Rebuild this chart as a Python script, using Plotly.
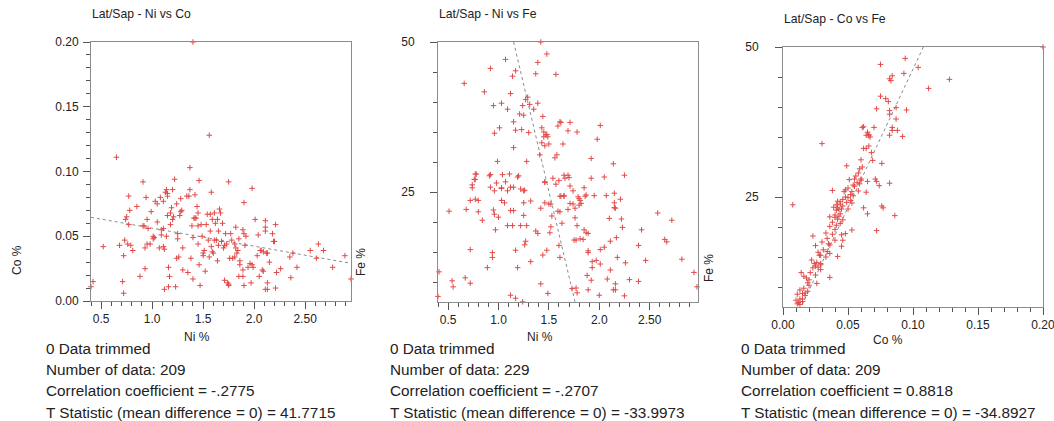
import plotly.graph_objects as go

# ---------------- data ----------------
# Panel 1: Lat/Sap - Ni vs Co  (Ni %, Co %)
ni_co_points = [
    (0.42,0.015),(0.40,0.011),(0.52,0.042),(0.65,0.111),(0.68,0.043),(0.71,0.015),(0.72,0.006),(0.72,0.035),
    (0.73,0.047),(0.74,0.063),(0.75,0.065),(0.76,0.044),(0.77,0.081),(0.77,0.059),(0.78,0.070),(0.79,0.043),
    (0.81,0.039),(0.85,0.073),(0.88,0.019),(0.91,0.092),(0.91,0.058),(0.92,0.058),(0.93,0.025),(0.93,0.041),
    (0.94,0.080),(0.95,0.063),(0.95,0.044),(0.96,0.056),(0.98,0.044),(0.99,0.069),(1.01,0.048),(1.01,0.050),
    (1.02,0.049),(1.03,0.077),(1.05,0.061),(1.05,0.075),(1.07,0.041),(1.08,0.080),(1.09,0.051),(1.09,0.055),
    (1.11,0.056),(1.11,0.077),(1.11,0.042),(1.12,0.009),(1.12,0.040),(1.13,0.084),(1.14,0.050),(1.14,0.086),
    (1.15,0.083),(1.15,0.066),(1.15,0.081),(1.16,0.026),(1.16,0.011),(1.17,0.019),(1.18,0.059),(1.18,0.068),
    (1.19,0.072),(1.20,0.086),(1.20,0.063),(1.21,0.065),(1.22,0.094),(1.23,0.011),(1.24,0.075),(1.24,0.033),
    (1.25,0.048),(1.25,0.052),(1.26,0.034),(1.27,0.066),(1.28,0.079),(1.28,0.069),(1.29,0.070),(1.30,0.041),
    (1.30,0.024),(1.34,0.081),(1.35,0.022),(1.36,0.081),(1.37,0.086),(1.37,0.103),(1.38,0.033),(1.39,0.058),
    (1.40,0.049),(1.40,0.017),(1.41,0.064),(1.42,0.082),(1.42,0.064),(1.43,0.064),(1.44,0.073),(1.45,0.058),
    (1.45,0.068),(1.45,0.044),(1.46,0.028),(1.46,0.093),(1.47,0.012),(1.48,0.059),(1.49,0.050),(1.50,0.035),
    (1.50,0.037),(1.51,0.039),(1.52,0.023),(1.53,0.059),(1.54,0.067),(1.55,0.047),(1.56,0.128),(1.56,0.034),
    (1.57,0.067),(1.57,0.054),(1.58,0.084),(1.58,0.042),(1.59,0.063),(1.59,0.038),(1.60,0.037),(1.61,0.047),
    (1.61,0.068),(1.62,0.060),(1.63,0.047),(1.64,0.063),(1.64,0.031),(1.65,0.043),(1.65,0.054),(1.66,0.071),
    (1.67,0.068),(1.68,0.046),(1.69,0.060),(1.70,0.041),(1.71,0.016),(1.71,0.043),(1.72,0.052),(1.73,0.044),
    (1.74,0.014),(1.75,0.012),(1.75,0.092),(1.75,0.013),(1.76,0.033),(1.77,0.052),(1.78,0.047),(1.79,0.033),
    (1.81,0.034),(1.81,0.044),(1.82,0.057),(1.82,0.041),(1.83,0.037),(1.84,0.039),(1.85,0.019),(1.85,0.048),
    (1.86,0.031),(1.86,0.028),(1.89,0.055),(1.89,0.019),(1.89,0.024),(1.90,0.052),(1.90,0.012),(1.90,0.076),
    (1.91,0.043),(1.92,0.050),(1.94,0.026),(1.96,0.029),(1.97,0.014),(1.98,0.028),(1.98,0.087),(1.99,0.026),
    (2.01,0.063),(2.03,0.035),(2.04,0.051),(2.05,0.019),(2.06,0.039),(2.07,0.039),(2.08,0.024),(2.09,0.023),
    (2.09,0.038),(2.11,0.057),(2.11,0.062),(2.11,0.054),(2.11,0.009),(2.12,0.037),(2.13,0.014),(2.13,0.009),
    (2.13,0.037),(2.15,0.030),(2.18,0.052),(2.19,0.046),(2.20,0.046),(2.21,0.059),(2.21,0.010),(2.22,0.022),
    (2.26,0.025),(2.35,0.034),(2.36,0.018),(2.38,0.037),(2.42,0.026),(2.55,0.039),(2.61,0.033),(2.63,0.044),
    (2.68,0.039),(2.77,0.026),(2.89,0.035),(2.95,0.017),(1.40,0.200),
]
ni_co_trend_x = [0.40, 2.95]
ni_co_trend_y = [0.0646, 0.0291]

# Panel 2: Lat/Sap - Ni vs Fe  (Ni %, Fe %)
ni_fe_points = [
    (1.42,50.0),(1.48,48.0),(1.07,47.1),(0.92,45.6),(1.39,46.6),(1.17,45.2),(1.37,44.7),(1.57,44.6),(1.14,44.3),
    (0.66,43.1),(0.86,41.7),(1.12,41.4),(1.29,40.8),(1.27,40.4),(1.03,39.8),(0.95,39.4),(1.31,39.6),(1.39,39.8),
    (1.24,39.4),(1.09,38.8),(1.35,38.8),(1.21,38.0),(1.25,37.8),(1.44,37.6),(1.15,36.7),(1.61,36.7),(1.62,36.6),
    (1.71,36.6),(2.01,36.1),(1.59,36.0),(1.01,35.7),(1.43,35.7),(1.17,35.3),(1.23,35.4),(1.45,35.0),(1.69,35.2),
    (1.78,35.0),(0.96,34.8),(1.30,34.9),(1.47,34.5),(1.48,34.6),(1.45,34.2),(1.49,34.2),(1.98,33.8),(1.43,33.2),
    (1.64,33.0),(1.50,33.0),(1.46,32.7),(1.15,32.4),(1.41,31.2),(1.58,31.2),(1.56,30.7),(1.92,30.6),(0.99,30.1),
    (1.28,30.1),(2.14,29.7),(0.77,28.0),(0.78,28.0),(0.91,27.7),(0.92,27.9),(1.04,27.9),(1.11,28.0),(1.20,27.7),
    (1.19,27.5),(1.65,27.8),(1.69,27.8),(1.70,27.4),(1.54,27.3),(1.66,27.3),(1.92,27.3),(2.05,27.5),(2.25,27.8),
    (0.76,27.1),(0.77,27.1),(0.98,26.5),(1.07,26.7),(1.60,26.9),(1.46,26.7),(1.46,26.6),(1.57,26.3),(0.74,26.2),
    (0.74,25.7),(0.92,25.8),(1.03,25.7),(1.03,25.6),(1.12,25.8),(1.15,25.8),(1.22,25.5),(1.26,25.3),(1.25,25.2),
    (0.96,25.2),(1.09,25.2),(1.71,26.0),(1.74,25.2),(1.85,25.7),(2.15,24.8),(1.62,24.3),(1.65,24.3),(1.61,24.3),
    (1.65,24.4),(1.79,24.2),(1.87,24.5),(1.86,24.3),(1.95,24.4),(2.07,24.4),(0.72,23.6),(0.77,23.8),(0.80,23.6),
    (1.03,23.6),(1.06,23.2),(1.25,23.2),(1.32,23.5),(1.46,23.2),(1.80,23.9),(1.81,23.6),(2.21,23.8),(1.50,23.0),
    (1.52,23.0),(1.71,23.1),(1.74,23.0),(1.76,22.3),(1.80,22.8),(1.82,23.1),(2.15,23.2),(2.15,22.4),(0.95,22.0),
    (1.12,21.9),(1.15,21.9),(1.42,22.3),(1.61,21.7),(1.59,21.8),(1.69,22.1),(0.51,21.8),(0.68,22.1),(0.80,21.7),
    (0.96,21.3),(1.25,21.1),(1.53,21.0),(1.76,20.7),(2.10,20.6),(2.16,22.3),(1.00,20.8),(2.58,21.5),(0.84,20.3),
    (1.63,19.8),(2.22,20.5),(2.72,20.3),(1.09,19.4),(1.14,19.4),(1.22,19.4),(1.28,19.4),(1.52,19.2),(1.78,19.4),
    (0.97,18.7),(1.37,18.5),(1.39,18.1),(1.51,18.2),(1.85,18.7),(1.87,18.2),(1.89,18.1),(2.23,19.1),(2.42,18.7),
    (2.17,17.4),(2.11,16.8),(1.75,17.0),(1.77,17.0),(1.81,17.2),(1.84,17.1),(2.65,17.1),(2.67,16.7),(1.27,16.8),
    (1.26,16.2),(1.60,16.1),(2.39,16.1),(0.72,15.4),(1.17,15.3),(1.48,15.3),(1.89,15.2),(1.89,14.9),(2.01,15.4),
    (2.05,15.8),(0.94,14.9),(0.94,14.1),(1.32,13.4),(1.44,14.5),(1.61,14.1),(1.93,13.4),(1.97,13.6),(2.18,14.1),
    (2.46,13.6),(2.82,13.8),(0.89,12.4),(1.19,12.4),(1.93,12.4),(2.01,13.0),(2.26,13.2),(0.41,11.7),(1.88,11.1),
    (2.11,12.0),(2.94,11.6),(0.67,10.7),(0.54,10.2),(0.72,9.8),(1.42,9.7),(1.92,10.3),(2.08,10.5),(2.30,10.4),
    (2.39,10.1),(2.16,9.7),(0.55,9.2),(1.73,8.9),(1.77,9.0),(1.89,8.7),(2.14,8.7),(2.16,8.7),(1.78,8.2),
    (1.49,8.1),(2.00,7.8),(2.25,7.7),(1.12,7.8),(1.17,7.3),(0.40,7.6),(1.24,6.7),(2.97,9.2),
]
ni_fe_trend_x = [1.15, 1.76]
ni_fe_trend_y = [50.0, 6.67]

# Panel 3: Lat/Sap - Co vs Fe  (Co %, Fe %)
co_fe_points = [
    (0.094,48.1),(0.075,47.1),(0.104,46.6),(0.093,45.6),(0.084,45.2),(0.082,44.7),(0.083,44.4),(0.112,43.1),
    (0.075,41.8),(0.079,41.4),(0.081,40.9),(0.072,39.7),(0.087,39.9),(0.095,39.5),(0.082,39.4),(0.082,38.8),
    (0.087,38.0),(0.062,36.7),(0.061,36.6),(0.070,36.6),(0.084,36.6),(0.084,36.1),(0.088,36.1),(0.065,35.8),
    (0.066,35.4),(0.064,35.3),(0.067,35.0),(0.066,35.2),(0.092,35.1),(0.082,35.3),(0.030,33.9),(0.062,33.1),
    (0.064,33.1),(0.068,32.4),(0.060,31.2),(0.069,31.1),(0.076,30.6),(0.049,30.2),(0.059,29.7),(0.058,29.0),
    (0.060,28.0),(0.051,27.9),(0.055,28.0),(0.060,27.8),(0.065,27.6),(0.071,28.0),(0.072,27.6),(0.057,27.4),
    (0.059,27.2),(0.054,27.0),(0.074,26.9),(0.082,27.3),(0.038,26.1),(0.048,26.2),(0.047,25.9),(0.053,25.9),
    (0.058,26.0),(0.064,25.8),(0.052,25.4),(0.054,25.2),(0.050,24.9),(0.046,24.6),(0.052,24.4),(0.042,24.3),
    (0.044,24.2),(0.049,24.1),(0.041,23.7),(0.044,23.8),(0.046,23.5),(0.039,23.3),(0.042,23.2),(0.062,23.2),
    (0.0075,23.7),(0.050,23.0),(0.043,22.9),(0.041,22.8),(0.077,23.2),(0.076,23.5),(0.065,22.2),(0.086,21.9),
    (0.044,22.2),(0.043,21.8),(0.036,21.7),(0.040,21.6),(0.042,21.3),(0.046,21.2),(0.044,20.6),(0.036,20.1),
    (0.041,20.3),(0.040,19.6),(0.053,19.5),(0.072,19.4),(0.038,18.8),(0.048,18.9),(0.045,18.7),(0.023,18.5),
    (0.034,18.1),(0.040,17.8),(0.046,17.8),(0.035,17.2),(0.036,17.0),(0.025,16.9),(0.045,16.8),(0.031,16.2),
    (0.034,15.9),(0.036,15.6),(0.028,15.3),(0.029,15.3),(0.033,15.0),(0.042,15.1),(0.026,14.1),(0.024,13.9),
    (0.029,13.9),(0.029,13.7),(0.025,13.5),(0.027,13.3),(0.023,13.2),(0.029,12.9),(0.021,12.4),(0.014,12.4),
    (0.025,12.0),(0.016,11.8),(0.036,11.6),(0.020,11.2),(0.019,10.7),(0.026,10.6),(0.020,10.3),(0.016,9.8),
    (0.019,9.3),(0.017,9.0),(0.015,8.9),(0.011,8.8),(0.017,8.6),(0.013,8.0),(0.015,8.0),(0.010,7.8),
    (0.012,7.4),(0.013,7.1),(0.015,7.6),(0.011,7.2),(0.128,44.6),(0.200,50.0),
    (0.050,26.5),(0.055,26.8),(0.048,25.0),(0.045,23.0),(0.040,22.0),(0.038,20.8),(0.033,19.0),(0.030,17.5),
    (0.027,15.8),(0.022,14.5),(0.018,11.5),(0.013,9.5),(0.056,28.5),(0.061,30.0),(0.066,33.5),(0.053,24.0),
]
co_fe_trend_x = [0.108, 0.014]
co_fe_trend_y = [50.0, 6.67]

titles = ["Lat/Sap - Ni vs Co", "Lat/Sap - Ni vs Fe", "Lat/Sap - Co vs Fe"]
stats = [
    ["0 Data trimmed", "Number of data: 209", "Correlation coefficient = -.2775",
     "T Statistic (mean difference = 0) = 41.7715"],
    ["0 Data trimmed", "Number of data: 229", "Correlation coefficient = -.2707",
     "T Statistic (mean difference = 0) = -33.9973"],
    ["0 Data trimmed", "Number of data: 209", "Correlation coefficient = 0.8818",
     "T Statistic (mean difference = 0) = -34.8927"],
]
ni_ticks = [0.5, 1.0, 1.5, 2.0, 2.5]
ni_ticktext = ["0.5", "1.0", "1.5", "2.0", "2.50"]
co_ticks = [0.0, 0.05, 0.10, 0.15, 0.20]
co_ticktext = ["0.00", "0.05", "0.10", "0.15", "0.20"]
fe_ticks = [25, 50]
fe_ticktext = ["25", "50"]

# ---------------- figure ----------------
W, H = 1054, 421
FONT = "Liberation Sans, Arial, sans-serif"
RED = "#e24a4a"
TXT = "#222222"


def px(x):
    return x / W


def py(y):
    return 1 - y / H


fig = go.Figure()

panels = [
    (ni_co_points, ni_co_trend_x, ni_co_trend_y, "x", "y"),
    (ni_fe_points, ni_fe_trend_x, ni_fe_trend_y, "x2", "y2"),
    (co_fe_points, co_fe_trend_x, co_fe_trend_y, "x3", "y3"),
]
for pts, tx, ty, xa, ya in panels:
    xs = [p[0] for p in pts]
    ys = [p[1] for p in pts]
    fig.add_trace(go.Scatter(x=tx, y=ty, mode="lines", xaxis=xa, yaxis=ya,
                             line=dict(color="#8a8a8a", width=1, dash="dot"),
                             hoverinfo="skip", showlegend=False))
    fig.add_trace(go.Scatter(x=xs, y=ys, mode="markers", xaxis=xa, yaxis=ya,
                             marker=dict(symbol="cross-thin", size=4, color=RED,
                                         line=dict(width=1, color=RED)),
                             cliponaxis=False, showlegend=False))


def axis(domain, rng, tickvals, ticktext, minor_dtick, anchor, standoff=2):
    return dict(domain=domain, range=rng, tickmode="array", tickvals=tickvals,
                ticktext=ticktext, ticks="outside", ticklen=7, tickcolor="#555",
                tickwidth=1, showline=True, mirror=True, linecolor="#8c8c8c",
                linewidth=1, showgrid=False, zeroline=False, anchor=anchor,
                automargin=False, ticklabelstandoff=standoff,
                ticklabeloverflow="allow",
                tickfont=dict(family=FONT, size=12, color=TXT),
                minor=dict(tickmode="linear", tick0=0, dtick=minor_dtick,
                           ticks="outside", ticklen=4, tickcolor="#555",
                           showgrid=False))


fig.update_layout(
    width=W, height=H, margin=dict(l=0, r=0, t=0, b=0, pad=0, autoexpand=False),
    paper_bgcolor="white", plot_bgcolor="white", showlegend=False,
    xaxis=axis([px(91), px(351)], [0.40, 2.95], ni_ticks, ni_ticktext, 0.1, "y", 0),
    yaxis=axis([py(301), py(42)], [0.0, 0.2], co_ticks, co_ticktext, 0.01, "x", 2),
    xaxis2=axis([px(438), px(698)], [0.40, 2.98], ni_ticks, ni_ticktext, 0.1, "y2", 0),
    yaxis2=axis([py(302), py(42)], [6.67, 50.0], fe_ticks, fe_ticktext, 5, "x2", 13),
    xaxis3=axis([px(783), px(1043)], [0.0, 0.2], co_ticks, co_ticktext, 0.01, "y3", 0),
    yaxis3=axis([py(307), py(47)], [6.67, 50.0], fe_ticks, fe_ticktext, 5, "x3", 14),
)

ann = []
# titles
for t, (x0, y0) in zip(titles, [(90, 14), (437, 14), (782, 19)]):
    ann.append(dict(text=t, x=px(x0), y=py(y0), xref="paper", yref="paper",
                    xanchor="left", yanchor="middle", showarrow=False,
                    font=dict(family=FONT, size=12.2, color=TXT)))
# axis titles
axis_titles = [("Co %", 17, 260, -90), ("Ni %", 197, 337, 0),
               ("Fe %", 361, 262, -90), ("Ni %", 540, 337, 0),
               ("Fe %", 709, 268, -90), ("Co %", 888, 340, 0)]
for t, x0, y0, ang in axis_titles:
    ann.append(dict(text=t, x=px(x0), y=py(y0), xref="paper", yref="paper",
                    xanchor="center", yanchor="middle", showarrow=False,
                    textangle=ang, font=dict(family=FONT, size=12, color=TXT)))
# stats text
for lines, x0 in zip(stats, [44, 388, 739]):
    for line, y0 in zip(lines, [348, 369, 390, 412]):
        ann.append(dict(text=line, x=px(x0), y=py(y0), xref="paper", yref="paper",
                        xanchor="left", yanchor="middle", showarrow=False,
                        font=dict(family=FONT, size=15.3, color=TXT)))
fig.update_layout(annotations=ann)

fig.write_html("out.html")
